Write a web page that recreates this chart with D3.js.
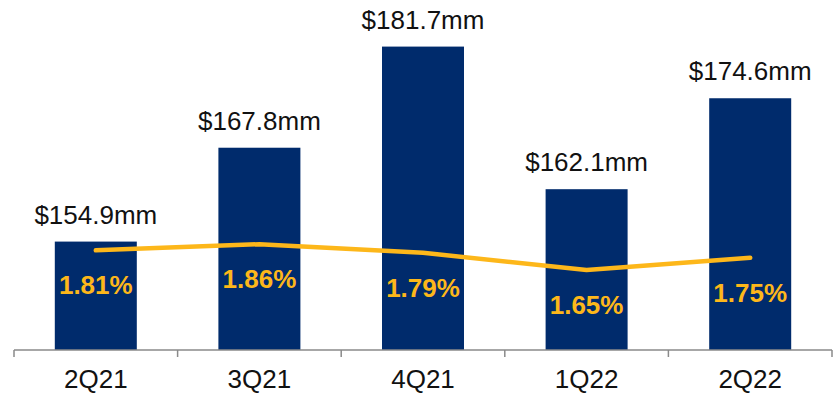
<!DOCTYPE html>
<html>
<head>
<meta charset="utf-8">
<script src="https://cdn.jsdelivr.net/npm/d3@7"></script>
<style>
  html, body { margin: 0; padding: 0; background: #fff; }
  svg { display: block; }
  text { font-family: "Liberation Sans", Arial, sans-serif; }
</style>
</head>
<body>
<svg id="chart" width="834" height="394"></svg>
<script>
// Quarterly revenue ($mm) with margin (%) overlay
const quarters = ["2Q21", "3Q21", "4Q21", "1Q22", "2Q22"];
const revenue = [154.9, 167.8, 181.7, 162.1, 174.6];
const margin = [1.81, 1.86, 1.79, 1.65, 1.75];

const axisY = 350;
const svg = d3.select("#chart");

const x = d3.scaleBand().domain(quarters).range([14, 832]).paddingInner(0).paddingOuter(0);
const barW = 82;
const yBar = d3.scaleLinear().domain([140, 185]).range([axisY, axisY - 45 * 7.276]);
const yPct = d3.scaleLinear().domain([1, 3.5]).range([axisY, axisY - 2.5 * 123]);

const navy = "#002B6C";
const gold = "#FDB71A";

// bars
svg.append("g").selectAll("rect")
  .data(quarters)
  .join("rect")
  .attr("x", (d) => x(d) + x.bandwidth() / 2 - barW / 2)
  .attr("y", (d, i) => yBar(revenue[i]))
  .attr("width", barW)
  .attr("height", (d, i) => axisY - yBar(revenue[i]))
  .attr("fill", navy);

// revenue labels above bars
svg.append("g").selectAll("text")
  .data(quarters)
  .join("text")
  .attr("x", (d) => x(d) + x.bandwidth() / 2)
  .attr("y", (d, i) => yBar(revenue[i]) - 18)
  .attr("text-anchor", "middle")
  .attr("font-size", 26)
  .attr("fill", "#111")
  .text((d, i) => "$" + revenue[i].toFixed(1) + "mm");

// margin line
const line = d3.line()
  .x((d, i) => x(quarters[i]) + x.bandwidth() / 2)
  .y((d) => yPct(d));
svg.append("path")
  .datum(margin)
  .attr("d", line)
  .attr("fill", "none")
  .attr("stroke", gold)
  .attr("stroke-width", 4.5)
  .attr("stroke-linecap", "round")
  .attr("stroke-linejoin", "round");

// margin labels
svg.append("g").selectAll("text")
  .data(quarters)
  .join("text")
  .attr("x", (d) => x(d) + x.bandwidth() / 2)
  .attr("y", (d, i) => yPct(margin[i]) + 44)
  .attr("text-anchor", "middle")
  .attr("font-size", 26)
  .attr("font-weight", "bold")
  .attr("fill", gold)
  .text((d, i) => margin[i].toFixed(2) + "%");

// category axis
const axis = d3.axisBottom(x).tickSize(0).tickPadding(20);
const gAxis = svg.append("g").attr("transform", `translate(0,${axisY})`).call(axis);
gAxis.select(".domain").attr("stroke", "#8a8a8a").attr("stroke-width", 1.5).attr("d", `M14,0H832`);
gAxis.selectAll(".tick text")
  .attr("font-size", 26)
  .attr("fill", "#111")
  .attr("font-family", "Liberation Sans, Arial, sans-serif");

// boundary tick marks between categories
const bounds = quarters.map((q) => x(q)).concat([x.range()[1]]);
svg.append("g").selectAll("line")
  .data(bounds)
  .join("line")
  .attr("x1", (d) => d).attr("x2", (d) => d)
  .attr("y1", axisY).attr("y2", axisY + 7)
  .attr("stroke", "#8a8a8a")
  .attr("stroke-width", 1.5);
</script>
</body>
</html>
